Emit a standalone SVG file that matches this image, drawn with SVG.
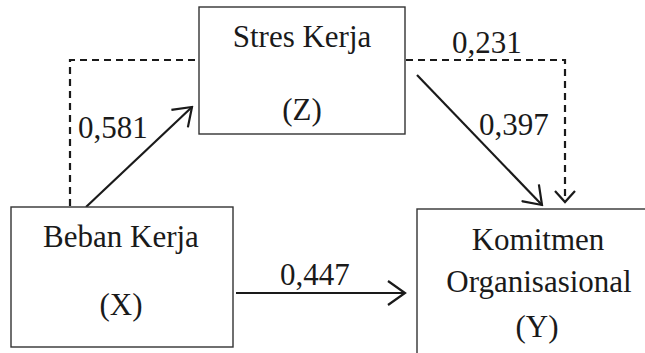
<svg xmlns="http://www.w3.org/2000/svg" width="645" height="353" viewBox="0 0 645 353">
<defs>
<style>
.box{fill:#fff;stroke:#333;stroke-width:1.4}
.t{font-family:"Liberation Serif","Times New Roman",serif;font-size:31px;fill:#1a1a1a;text-anchor:middle}
.l{font-family:"Liberation Serif","Times New Roman",serif;font-size:31px;fill:#1a1a1a}
.s{fill:none;stroke:#1a1a1a;stroke-width:2.2}
.d{fill:none;stroke:#1a1a1a;stroke-width:2.2;stroke-dasharray:7 5}
</style>
<marker id="ah" viewBox="0 0 20 26" refX="18" refY="13" markerWidth="20" markerHeight="26" markerUnits="userSpaceOnUse" orient="auto">
<path d="M1,1 L18,13 L1,25" fill="none" stroke="#1a1a1a" stroke-width="2.2"/>
</marker>
<marker id="ahs" viewBox="0 0 14 22" refX="12" refY="11" markerWidth="14" markerHeight="22" markerUnits="userSpaceOnUse" orient="auto">
<path d="M1,1 L12,11 L1,21" fill="none" stroke="#1a1a1a" stroke-width="2.2"/>
</marker>
</defs>
<rect width="645" height="353" fill="#fff"/>
<g id="connectors">
<path class="d" d="M70,206 V60 H196"/>
<path class="d" d="M406,60 H565 V202" marker-end="url(#ahs)"/>
<line class="s" x1="86" y1="207" x2="192" y2="107" marker-end="url(#ah)"/>
<line class="s" x1="417" y1="75" x2="542" y2="205" marker-end="url(#ah)"/>
<line class="s" x1="236" y1="293" x2="405" y2="293" marker-end="url(#ah)"/>
<text class="l" x="78" y="138">0,581</text>
<text class="l" x="452" y="53">0,231</text>
<text class="l" x="479" y="135">0,397</text>
<text class="l" x="280" y="285">0,447</text>
</g>
<g id="node-z">
<rect class="box" x="199" y="7" width="206" height="127"/>
<text class="t" x="302" y="47">Stres Kerja</text>
<text class="t" x="302" y="120">(Z)</text>
</g>
<g id="node-x">
<rect class="box" x="11" y="207" width="222" height="140"/>
<text class="t" x="121" y="247">Beban Kerja</text>
<text class="t" x="121" y="315">(X)</text>
</g>
<g id="node-y">
<rect class="box" x="417" y="209" width="240" height="160"/>
<text class="t" x="538" y="250">Komitmen</text>
<text class="t" x="539" y="292">Organisasional</text>
<text class="t" x="537" y="337">(Y)</text>
</g>
</svg>
